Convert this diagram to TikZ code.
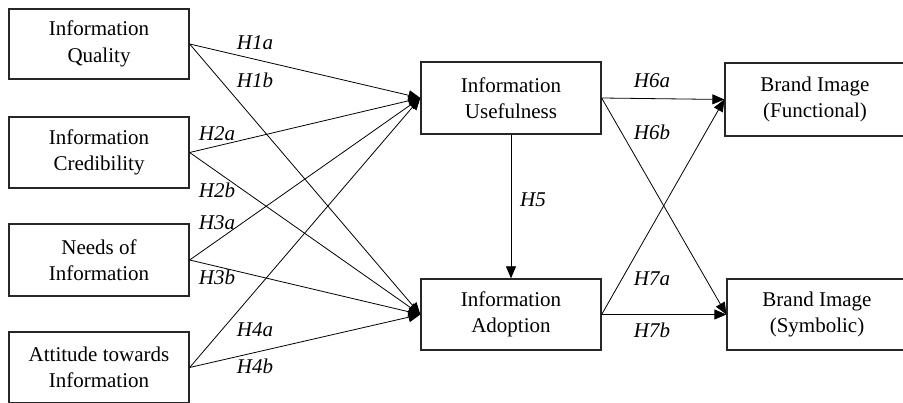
\documentclass[tikz,border=0pt]{standalone}
\usepackage{fontspec}
\setmainfont{Liberation Serif}
\usetikzlibrary{arrows.meta}
\begin{document}
\begin{tikzpicture}[x=1pt,y=-1pt,
  box/.style={draw=black!85, line width=1.3pt, rectangle, inner sep=0pt, minimum width=180pt, align=center, font=\fontsize{21}{26.5}\selectfont},
  hyp/.style={font=\fontsize{21}{25}\selectfont\itshape, inner sep=0pt},
  conn/.style={line width=0.8pt, -{Triangle[length=12pt,width=10pt]}},
  plain/.style={line width=0.8pt}]
\useasboundingbox (0,0) rectangle (903,403);
\node[box, minimum height=70pt] (iq) at (99,44) {Information\\Quality};
\node[box, minimum height=71pt] (ic) at (99,152.5) {Information\\Credibility};
\node[box, minimum height=72pt] (ni) at (99,260) {Needs of\\Information};
\node[box, minimum height=71pt] (at) at (99,367.5) {Attitude towards\\Information};
\node[box, minimum height=72pt] (iu) at (511,98) {Information\\Usefulness};
\node[box, minimum height=71pt] (ia) at (511,314.5) {Information\\Adoption};
\node[box, minimum height=73pt] (bf) at (815,99.5) {Brand Image\\(Functional)};
\node[box, minimum height=71pt] (bs) at (817,314.5) {Brand Image\\(Symbolic)};
\draw[conn] (iq.east) -- (iu.west);
\draw[conn] (iq.east) -- (ia.west);
\draw[conn] (ic.east) -- (iu.west);
\draw[conn] (ic.east) -- (ia.west);
\draw[conn] (ni.east) -- (iu.west);
\draw[conn] (ni.east) -- (ia.west);
\draw[conn] (at.east) -- (iu.west);
\draw[conn] (at.east) -- (ia.west);
\draw[conn] (iu.south) -- (ia.north);
\draw[conn] (iu.east) -- (bf.west);
\draw[conn] (iu.east) -- (bs.west);
\draw[conn] (ia.east) -- (bf.west);
\draw[conn] (ia.east) -- (bs.west);
\node[hyp] (h1a) at (255,43) {H1a};
\node[hyp] (h1b) at (255,80) {H1b};
\node[hyp] (h2a) at (217,134) {H2a};
\node[hyp] (h2b) at (217,190) {H2b};
\node[hyp] (h3a) at (217,223) {H3a};
\node[hyp] (h3b) at (217,277) {H3b};
\node[hyp] (h4a) at (255,330) {H4a};
\node[hyp] (h4b) at (255,366) {H4b};
\node[hyp] (h5) at (533,200) {H5};
\node[hyp] (h6a) at (652,81) {H6a};
\node[hyp] (h6b) at (652,132) {H6b};
\node[hyp] (h7a) at (652,279) {H7a};
\node[hyp] (h7b) at (652,330) {H7b};
\end{tikzpicture}
\end{document}
